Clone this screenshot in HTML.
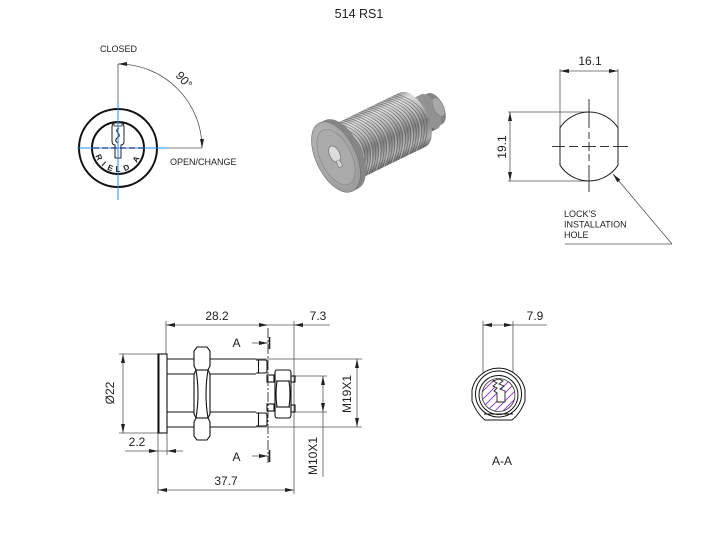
<!DOCTYPE html>
<html><head><meta charset="utf-8"><style>
html,body{margin:0;padding:0;background:#fff;}
svg{display:block;}
text{font-family:"Liberation Sans",Arial,sans-serif;fill:#222;}
</style></head><body>
<svg width="720" height="540" viewBox="0 0 720 540" xmlns="http://www.w3.org/2000/svg">
<defs>
 <linearGradient id="cyl" gradientUnits="userSpaceOnUse" x1="0" y1="-32" x2="0" y2="32">
  <stop offset="0" stop-color="#8e8e8e"/>
  <stop offset="0.15" stop-color="#dedede"/>
  <stop offset="0.35" stop-color="#bcbcbc"/>
  <stop offset="0.6" stop-color="#828282"/>
  <stop offset="0.85" stop-color="#acacac"/>
  <stop offset="1" stop-color="#606060"/>
 </linearGradient>
 <linearGradient id="cyl2" gradientUnits="userSpaceOnUse" x1="0" y1="-18" x2="0" y2="18">
  <stop offset="0" stop-color="#989898"/>
  <stop offset="0.25" stop-color="#dcdcdc"/>
  <stop offset="0.6" stop-color="#868686"/>
  <stop offset="1" stop-color="#686868"/>
 </linearGradient>
 <radialGradient id="face" cx="0.45" cy="0.4" r="0.7">
  <stop offset="0" stop-color="#cacaca"/>
  <stop offset="1" stop-color="#929292"/>
 </radialGradient>
 <clipPath id="thr"><path d="M6,-30 L85,-30 A16,30 0 0 1 85,30 L6,30 Z"/></clipPath>
 <clipPath id="hatc"><circle cx="498.5" cy="395" r="16.5"/></clipPath>
</defs>

<text x="359" y="18" font-size="12.5" text-anchor="middle" fill="#333">514 RS1</text>

<!-- FRONT VIEW -->
<g stroke="#555" stroke-width="0.8" fill="none">
 <line x1="118" y1="64" x2="118" y2="102"/>
 <line x1="168" y1="148" x2="202" y2="148"/>
 <path d="M118,64 A84,84 0 0 1 202,148"/>
</g>
<polygon points="118,64 127,62 127,66" fill="#222"/>
<polygon points="202,148 200,139 204,139" fill="#222"/>
<text x="184" y="80" font-size="12" text-anchor="middle" dominant-baseline="central" transform="rotate(48 184 80)">90°</text>
<text x="100" y="52" font-size="9">CLOSED</text>
<text x="170" y="165" font-size="9">OPEN/CHANGE</text>
<circle cx="118" cy="148" r="39" fill="none" stroke="#111" stroke-width="2"/>
<circle cx="118" cy="148" r="26" fill="none" stroke="#111" stroke-width="2"/>
<path d="M112,127 Q112,122 118,122 Q124,122 124,127 L124,141 Q124,145 121,145 L121,158 L115,158 L115,145 Q112,145 112,141 Z" fill="#fff" stroke="#222" stroke-width="1"/>
<rect x="114" y="123" width="8" height="3" fill="none" stroke="#222" stroke-width="0.8"/>
<path d="M119,128 q-4,2 -1,5 q3,3 -1,5 q-3,3 1,5" fill="none" stroke="#222" stroke-width="1"/>
<line x1="77" y1="148" x2="168" y2="148" stroke="#1e8cff" stroke-width="1"/>
<line x1="118" y1="102" x2="118" y2="200" stroke="#1e8cff" stroke-width="1"/>
<line x1="93" y1="148" x2="143" y2="148" stroke="#1a2f7a" stroke-width="1.3" stroke-dasharray="6 3"/>
<g font-size="8" font-weight="bold" text-anchor="middle" dominant-baseline="central">
 <text x="98.7" y="157.4" transform="rotate(64 98.7 157.4)">R</text>
 <text x="103.6" y="164" transform="rotate(42 103.6 164)">I</text>
 <text x="110.3" y="168.1" transform="rotate(21 110.3 168.1)">E</text>
 <text x="118" y="169.5">L</text>
 <text x="126.4" y="167.8" transform="rotate(-23 126.4 167.8)">D</text>
 <text x="136.2" y="159.4" transform="rotate(-58 136.2 159.4)">A</text>
</g>

<!-- 3D RENDER -->
<g transform="translate(336,157) rotate(-26)">
 <rect x="80" y="-17" width="30" height="34" fill="url(#cyl2)"/>
 <ellipse cx="110" cy="0" rx="9" ry="17" fill="#848484"/>
 <rect x="96" y="-19" width="8" height="38" fill="url(#cyl2)"/>
 <ellipse cx="104" cy="0" rx="9" ry="19" fill="#929292"/>
 <ellipse cx="114" cy="0" rx="5" ry="10" fill="#a8a8a8" stroke="#777" stroke-width="0.5"/>
 <path d="M6,-30 L85,-30 A16,30 0 0 1 85,30 L6,30 Z" fill="url(#cyl)"/>
 <g clip-path="url(#thr)" fill="none">
  <g stroke="#555" stroke-width="0.7" opacity="0.75">
   <path d="M10,-30 Q42,0 10,30"/><path d="M13,-30 Q45,0 13,30"/><path d="M16,-30 Q48,0 16,30"/><path d="M19,-30 Q51,0 19,30"/><path d="M22,-30 Q54,0 22,30"/><path d="M25,-30 Q57,0 25,30"/><path d="M28,-30 Q60,0 28,30"/><path d="M31,-30 Q63,0 31,30"/><path d="M34,-30 Q66,0 34,30"/><path d="M37,-30 Q69,0 37,30"/><path d="M40,-30 Q72,0 40,30"/><path d="M43,-30 Q75,0 43,30"/><path d="M46,-30 Q78,0 46,30"/><path d="M49,-30 Q81,0 49,30"/><path d="M52,-30 Q84,0 52,30"/><path d="M55,-30 Q87,0 55,30"/><path d="M58,-30 Q90,0 58,30"/><path d="M61,-30 Q93,0 61,30"/><path d="M64,-30 Q96,0 64,30"/><path d="M67,-30 Q99,0 67,30"/><path d="M70,-30 Q102,0 70,30"/><path d="M73,-30 Q105,0 73,30"/><path d="M76,-30 Q108,0 76,30"/><path d="M79,-30 Q111,0 79,30"/><path d="M82,-30 Q114,0 82,30"/>
  </g>
  <g stroke="#ffffff" stroke-width="0.6" opacity="0.45">
   <path d="M11.5,-30 Q43.5,0 11.5,30"/><path d="M20.5,-30 Q52.5,0 20.5,30"/><path d="M29.5,-30 Q61.5,0 29.5,30"/><path d="M38.5,-30 Q70.5,0 38.5,30"/><path d="M47.5,-30 Q79.5,0 47.5,30"/><path d="M56.5,-30 Q88.5,0 56.5,30"/><path d="M65.5,-30 Q97.5,0 65.5,30"/><path d="M74.5,-30 Q106.5,0 74.5,30"/>
  </g>
 </g>
 <ellipse cx="6" cy="0" rx="20" ry="38" fill="#868686"/>
 <rect x="0" y="-38" width="6" height="76" fill="url(#cyl)"/>
 <ellipse cx="0" cy="0" rx="20" ry="38" fill="url(#face)" stroke="#707070" stroke-width="0.6"/>
 <ellipse cx="0" cy="0" rx="15.5" ry="30" fill="#aaaaaa" stroke="#808080" stroke-width="0.6"/>
 <ellipse cx="0" cy="-3" rx="5" ry="9" fill="#dcdcdc" stroke="#666" stroke-width="0.6"/>
 <rect x="-2" y="4" width="4" height="7" fill="#d4d4d4" stroke="#666" stroke-width="0.5"/>
</g>

<!-- INSTALLATION HOLE -->
<g stroke="#555" stroke-width="0.8" fill="none">
 <line x1="560" y1="69" x2="560" y2="128"/>
 <line x1="618" y1="69" x2="618" y2="128"/>
 <line x1="560" y1="71" x2="618" y2="71"/>
 <line x1="508" y1="112" x2="589" y2="112"/>
 <line x1="508" y1="181" x2="589" y2="181"/>
 <line x1="510" y1="112" x2="510" y2="181"/>
 <line x1="613" y1="174" x2="672" y2="244"/>
 <line x1="565" y1="244" x2="672" y2="244"/>
</g>
<path d="M560,127.8 A34.5,34.5 0 0 1 618,127.8 L618,165.2 A34.5,34.5 0 0 1 560,165.2 Z" fill="none" stroke="#222" stroke-width="1"/>
<g stroke="#222" stroke-width="0.9">
 <line x1="589" y1="99" x2="589" y2="128"/><line x1="589" y1="132" x2="589" y2="139"/><line x1="589" y1="142" x2="589" y2="151"/><line x1="589" y1="154" x2="589" y2="161"/><line x1="589" y1="165" x2="589" y2="192"/>
 <line x1="552" y1="146.5" x2="565" y2="146.5"/><line x1="569" y1="146.5" x2="578" y2="146.5"/><line x1="582" y1="146.5" x2="596" y2="146.5"/><line x1="600" y1="146.5" x2="609" y2="146.5"/><line x1="613" y1="146.5" x2="628" y2="146.5"/>
</g>
<g fill="#222">
 <polygon points="560,71 569,69 569,73"/>
 <polygon points="618,71 609,69 609,73"/>
 <polygon points="510,112 508,121 512,121"/>
 <polygon points="510,181 508,172 512,172"/>
 <polygon points="613,174 617.3,182.3 620.4,179.7"/>
</g>
<text x="590" y="65" font-size="12" text-anchor="middle">16.1</text>
<text x="502" y="147" font-size="12" text-anchor="middle" dominant-baseline="central" transform="rotate(-90 502 147)">19.1</text>
<text x="564" y="217" font-size="9">LOCK'S</text>
<text x="564" y="227.5" font-size="9">INSTALLATION</text>
<text x="564" y="238" font-size="9">HOLE</text>

<!-- SIDE VIEW -->
<g stroke="#555" stroke-width="0.8" fill="none">
 <line x1="166" y1="325" x2="330" y2="325"/>
 <line x1="166" y1="321" x2="166" y2="354"/>
 <line x1="294" y1="321" x2="294" y2="494"/>
 <line x1="119" y1="354" x2="158" y2="354"/>
 <line x1="119" y1="433" x2="158" y2="433"/>
 <line x1="123" y1="354" x2="123" y2="433"/>
 <line x1="158" y1="433" x2="158" y2="494"/>
 <line x1="167" y1="433" x2="167" y2="455"/>
 <line x1="125" y1="451" x2="183" y2="451"/>
 <line x1="158" y1="490" x2="294" y2="490"/>
 <line x1="256" y1="359" x2="362" y2="359"/>
 <line x1="256" y1="427" x2="362" y2="427"/>
 <line x1="357" y1="359" x2="357" y2="427"/>
 <line x1="295" y1="376" x2="327" y2="376"/>
 <line x1="295" y1="412" x2="327" y2="412"/>
 <line x1="323" y1="376" x2="323" y2="477"/>
 <line x1="252" y1="343" x2="268" y2="343"/>
 <line x1="252" y1="456" x2="268" y2="456"/>
</g>
<line x1="268" y1="328" x2="268" y2="463" stroke="#333" stroke-width="0.9" stroke-dasharray="10 2 2 2"/>
<line x1="269.5" y1="337" x2="269.5" y2="349" stroke="#222" stroke-width="1.6"/>
<line x1="269.5" y1="450" x2="269.5" y2="462" stroke="#222" stroke-width="1.6"/>
<g fill="#222">
 <polygon points="166,325 175,323 175,327"/>
 <polygon points="268,325 259,323 259,327"/>
 <polygon points="294,325 303,323 303,327"/>
 <polygon points="268,343 259,341 259,345"/>
 <polygon points="268,456 259,454 259,458"/>
 <polygon points="123,354 121,363 125,363"/>
 <polygon points="123,433 121,424 125,424"/>
 <polygon points="158,451 149,449 149,453"/>
 <polygon points="167,451 176,449 176,453"/>
 <polygon points="158,490 167,488 167,492"/>
 <polygon points="294,490 285,488 285,492"/>
 <polygon points="357,359 355,368 359,368"/>
 <polygon points="357,427 355,418 359,418"/>
 <polygon points="323,376 321,385 325,385"/>
 <polygon points="323,412 321,403 325,403"/>
</g>
<g stroke="#111" stroke-width="1.1" fill="none">
 <rect x="158" y="354" width="9" height="79"/>
 <line x1="158.5" y1="354" x2="158.5" y2="433" stroke-width="2"/>
 <line x1="167" y1="359" x2="194" y2="359"/><line x1="210" y1="359" x2="256" y2="359"/>
 <line x1="167" y1="374" x2="194" y2="374"/><line x1="210" y1="374" x2="256" y2="374"/>
 <line x1="167" y1="412" x2="194" y2="412"/><line x1="210" y1="412" x2="256" y2="412"/>
 <line x1="167" y1="427" x2="194" y2="427"/><line x1="210" y1="427" x2="256" y2="427"/>
 <path d="M197,347 L207,347 L210,351 L210,366 L208,370 L210,374 L210,414 L208,418 L210,422 L210,436 L207,440 L197,440 L194,436 L194,422 L196,418 L194,414 L194,374 L196,370 L194,366 L194,351 Z" fill="#fff"/>
 <line x1="196" y1="370" x2="208" y2="370"/>
 <line x1="196" y1="418" x2="208" y2="418"/>
 <path d="M196,370 Q200,394 196,418"/>
 <path d="M208,370 Q204,394 208,418"/>
 <path d="M256,360 L265,360 Q267,360 267,362 L267,371 Q267,373 265,373 L256,373"/>
 <line x1="258.5" y1="360" x2="258.5" y2="373"/>
 <path d="M256,413 L265,413 Q267,413 267,415 L267,424 Q267,426 265,426 L256,426"/>
 <line x1="258.5" y1="413" x2="258.5" y2="426"/>
 <rect x="267" y="375" width="7" height="7"/>
 <rect x="267" y="404" width="7" height="7"/>
 <path d="M277,370 L289,370 Q291,370 291,373 L291,415 Q291,418 288,418 L277,418 Q275,418 275,415 L275,373 Q275,370 277,370 Z" fill="#fff"/>
 <line x1="276" y1="381" x2="290" y2="381"/>
 <line x1="276" y1="407" x2="290" y2="407"/>
 <path d="M277,381 Q275,394 277,407"/>
 <path d="M289,381 Q291,394 289,407"/>
 <rect x="291" y="376" width="4" height="6"/>
 <rect x="291" y="405" width="4" height="7"/>
</g>
<text x="217" y="320" font-size="12" text-anchor="middle">28.2</text>
<text x="318" y="320" font-size="12" text-anchor="middle">7.3</text>
<text x="236.5" y="347" font-size="12" text-anchor="middle">A</text>
<text x="236.5" y="461" font-size="12" text-anchor="middle">A</text>
<text x="137" y="446" font-size="12" text-anchor="middle">2.2</text>
<text x="226" y="485" font-size="12" text-anchor="middle">37.7</text>
<text x="110" y="393" font-size="12" text-anchor="middle" dominant-baseline="central" transform="rotate(-90 110 393)">Ø22</text>
<text x="347" y="394" font-size="12" text-anchor="middle" dominant-baseline="central" transform="rotate(-90 347 394)">M19X1</text>
<text x="313" y="456" font-size="12" text-anchor="middle" dominant-baseline="central" transform="rotate(-90 313 456)">M10X1</text>

<!-- SECTION A-A -->
<g stroke="#555" stroke-width="0.8" fill="none">
 <line x1="483" y1="321" x2="483" y2="378"/>
 <line x1="513" y1="321" x2="513" y2="378"/>
 <line x1="483" y1="325" x2="547" y2="325"/>
</g>
<g fill="#222">
 <polygon points="483,325 492,323 492,327"/>
 <polygon points="513,325 504,323 504,327"/>
</g>
<text x="535" y="320" font-size="12" text-anchor="middle">7.9</text>
<g stroke="#111" stroke-width="1" fill="none">
 <path d="M472,390 A27,27 0 0 1 525,390 L525,401 Q520,414 512,420 L485,420 Q477,414 472,401 Z" fill="#fff"/>
 <circle cx="498.5" cy="394" r="23"/>
 <circle cx="498.5" cy="395" r="19.5"/>
 <line x1="484" y1="414" x2="513" y2="414"/>
</g>
<g clip-path="url(#hatc)" stroke="#8a2be2" stroke-width="0.9">
 <line x1="470" y1="420" x2="510" y2="380"/>
 <line x1="470" y1="428" x2="518" y2="380"/>
 <line x1="470" y1="436" x2="526" y2="380"/>
 <line x1="470" y1="412" x2="502" y2="380"/>
 <line x1="470" y1="404" x2="494" y2="380"/>
 <line x1="470" y1="396" x2="486" y2="380"/>
 <line x1="470" y1="444" x2="534" y2="380"/>
 <line x1="478" y1="444" x2="542" y2="380"/>
 <line x1="486" y1="444" x2="550" y2="380"/>
 <line x1="494" y1="444" x2="558" y2="380"/>
</g>
<circle cx="498.5" cy="395" r="16.5" fill="none" stroke="#333" stroke-width="0.8"/>
<path d="M493,381 L499,379 L503,381 L499,384 L504,386 L500,389 L505,391 L505,402 L497,402 L497,393 L494,391 L497,388 L493,386 L497,383 Z" fill="#fff" stroke="#222" stroke-width="0.9"/>
<text x="502" y="465" font-size="12" text-anchor="middle">A-A</text>
</svg>
</body></html>
